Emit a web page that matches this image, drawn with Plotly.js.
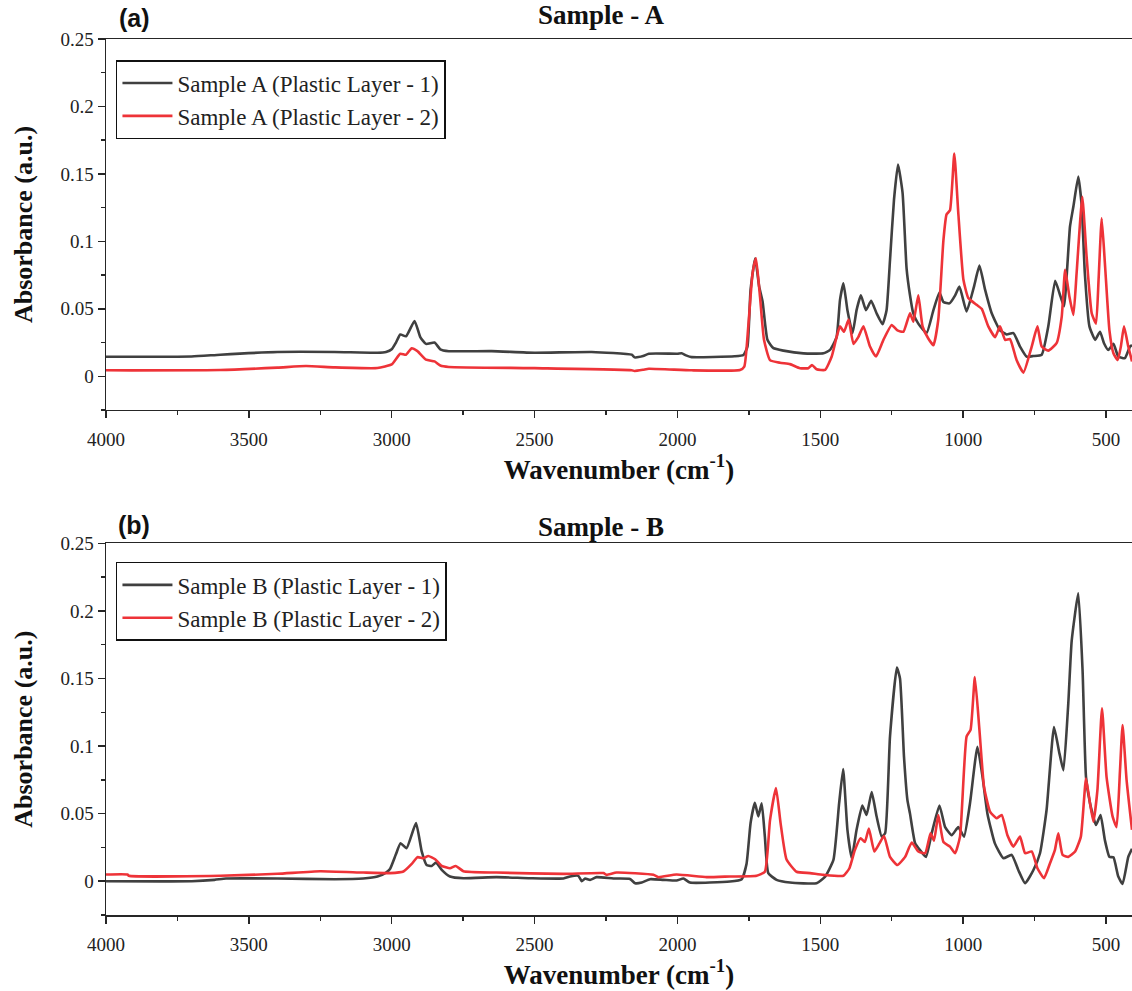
<!DOCTYPE html>
<html>
<head>
<meta charset="utf-8">
<script src="https://cdn.plot.ly/plotly-3.0.1.min.js"></script>
<style>html,body{margin:0;padding:0;background:#fff;}#chart{width:1132px;height:991px;}</style>
</head>
<body>
<div id="chart"></div>
<script>
// ---------- Data ----------
const A1_wn = [4000,3700,3600,3400,3200,3050,3020,3000,2985,2970,
  2950,2920,2900,2880,2850,2830,2800,2650,2500,2300,
  2160,2150,2120,2100,2000,1985,1970,1950,1800,1769,
  1755,1744,1728,1714,1702,1685,1664,1629,1559,1489,
  1466,1443,1431,1419,1405,1387,1373,1358,1340,1322,
  1303,1282,1268,1256,1242,1228,1212,1198,1186,1175,
  1157,1128,1104,1083,1069,1048,1028,1013,988,962,
  943,923,900,871,848,824,801,778,754,725,
  702,678,659,647,626,614,597,585,574,558,
  538,521,507,492,474,457,434,416,409];
const A1_abs = [0.0145,0.0147,0.016,0.018,0.018,0.0174,0.018,0.020,0.025,0.031,
  0.0296,0.041,0.029,0.024,0.025,0.020,0.0186,0.0186,0.0174,0.018,
  0.016,0.014,0.015,0.0167,0.0167,0.017,0.0155,0.0142,0.0148,0.0158,
  0.022,0.064,0.0875,0.0665,0.0554,0.027,0.0208,0.019,0.017,0.017,
  0.0195,0.029,0.0566,0.069,0.049,0.032,0.049,0.060,0.049,0.056,
  0.0467,0.0386,0.049,0.086,0.131,0.157,0.136,0.08,0.06,0.047,
  0.039,0.032,0.049,0.062,0.055,0.054,0.060,0.0665,0.048,0.0665,
  0.082,0.064,0.0467,0.034,0.031,0.032,0.022,0.0146,0.015,0.016,
  0.037,0.0707,0.059,0.052,0.111,0.126,0.148,0.126,0.076,0.037,
  0.027,0.033,0.0245,0.0195,0.024,0.0146,0.0134,0.022,0.023];

const A2_wn = [4000,3600,3400,3300,3200,3050,3000,2970,2950,2930,
  2910,2880,2850,2830,2800,2500,2160,2150,2120,2100,
  1950,1781,1766,1752,1737,1725,1711,1697,1676,1641,
  1606,1571,1542,1529,1513,1483,1460,1443,1431,1417,
  1401,1384,1367,1349,1326,1305,1279,1250,1230,1209,
  1186,1174,1157,1142,1122,1104,1087,1069,1058,1046,
  1031,1017,999,982,953,935,912,888,871,853,
  836,813,789,760,740,725,702,673,655,643,
  628,614,603,583,568,550,535,526,515,503,
  488,474,459,448,437,422,409];
const A2_abs = [0.0044,0.0046,0.0064,0.0076,0.0066,0.0061,0.0088,0.0167,0.016,0.0208,
  0.0186,0.0123,0.011,0.008,0.0069,0.006,0.0045,0.0039,0.0048,0.0056,
  0.0044,0.0047,0.0072,0.037,0.0764,0.0875,0.059,0.027,0.012,0.010,
  0.009,0.006,0.006,0.0084,0.0052,0.0047,0.0146,0.029,0.037,0.033,
  0.042,0.024,0.029,0.037,0.022,0.0146,0.027,0.038,0.034,0.033,
  0.0467,0.0405,0.060,0.037,0.028,0.023,0.042,0.101,0.12,0.123,
  0.165,0.121,0.0715,0.058,0.053,0.050,0.037,0.029,0.037,0.027,
  0.0275,0.012,0.0027,0.022,0.037,0.022,0.019,0.0245,0.044,0.079,
  0.059,0.0455,0.076,0.133,0.089,0.0467,0.039,0.0715,0.117,0.081,
  0.034,0.017,0.012,0.022,0.037,0.022,0.011];

const B1_wn = [4000,3700,3620,3580,3400,3200,3100,3050,3020,3006,
  2986,2969,2948,2915,2895,2878,2860,2845,2825,2796,
  2749,2633,2516,2399,2376,2347,2335,2323,2306,2283,
  2224,2166,2148,2125,2096,2049,2003,1979,1956,1816,
  1775,1758,1744,1729,1717,1705,1694,1682,1653,1606,
  1513,1483,1454,1434,1420,1405,1390,1373,1353,1338,
  1320,1303,1285,1273,1256,1232,1221,1207,1195,1186,
  1168,1151,1130,1110,1083,1063,1040,1017,997,976,
  950,932,915,889,859,830,807,783,754,731,
  708,682,663,649,632,620,597,582,570,556,
  535,519,504,488,474,457,442,422,409];
const B1_abs = [0,0,0.001,0.002,0.002,0.0015,0.002,0.0034,0.0064,0.009,
  0.0195,0.028,0.0244,0.043,0.022,0.012,0.0113,0.0138,0.0084,0.0035,
  0.0022,0.003,0.0022,0.002,0.0035,0.004,0,0.002,0.001,0.003,
  0.002,0.0017,-0.0015,-0.001,0.0015,0.001,0.0005,0.002,-0.001,-0.0002,
  0.0015,0.013,0.043,0.058,0.048,0.0577,0.033,0.006,0.001,-0.001,
  -0.0015,0.0034,0.0158,0.0577,0.083,0.038,0.017,0.038,0.056,0.049,
  0.066,0.048,0.033,0.0355,0.107,0.158,0.15,0.092,0.060,0.050,
  0.028,0.023,0.018,0.0355,0.056,0.040,0.034,0.040,0.033,0.0577,
  0.0995,0.077,0.050,0.028,0.017,0.0195,0.0083,-0.0015,0.0083,0.0207,
  0.0527,0.114,0.0946,0.082,0.1316,0.178,0.213,0.156,0.077,0.0577,
  0.0416,0.049,0.0305,0.018,0.0177,0.0034,-0.002,0.018,0.024];

const B2_wn = [4000,3925,3920,3600,3400,3250,3099,3006,2959,2930,
  2910,2889,2872,2848,2825,2796,2776,2749,2633,2399,
  2259,2248,2213,2084,2067,2003,1898,1816,1723,1694,
  1676,1655,1639,1618,1583,1536,1489,1419,1398,1379,
  1359,1344,1330,1311,1293,1277,1256,1230,1203,1180,
  1157,1133,1114,1102,1087,1069,1046,1028,1011,988,
  974,959,943,927,906,883,865,845,824,801,
  783,760,740,717,696,679,667,652,632,608,
  588,570,556,544,530,514,498,477,463,451,
  442,428,409];
const B2_abs = [0.005,0.005,0.004,0.004,0.0055,0.0074,0.0064,0.006,0.0072,0.0128,
  0.0178,0.017,0.0187,0.0163,0.0113,0.0096,0.0113,0.0074,0.0064,0.0054,
  0.006,0.0047,0.0064,0.0047,0.003,0.005,0.003,0.0035,0.004,0.007,
  0.045,0.069,0.043,0.016,0.007,0.006,0.0047,0.004,0.0096,0.023,
  0.0318,0.029,0.039,0.022,0.028,0.0335,0.018,0.012,0.018,0.0286,
  0.022,0.0207,0.0355,0.030,0.049,0.029,0.0256,0.0207,0.033,0.107,
  0.112,0.151,0.112,0.070,0.0515,0.0466,0.049,0.034,0.0256,0.033,
  0.0207,0.022,0.0096,0.0022,0.0133,0.023,0.0355,0.0195,0.018,0.022,
  0.033,0.076,0.0577,0.044,0.0675,0.128,0.077,0.048,0.040,0.082,
  0.1156,0.075,0.038];

const seriesNames = ["Sample A (Plastic Layer - 1)", "Sample A (Plastic Layer - 2)",
                     "Sample B (Plastic Layer - 1)", "Sample B (Plastic Layer - 2)"];
const panelTitles = ["Sample - A", "Sample - B"];
const panelLetters = ["(a)", "(b)"];
const xTitle = "Wavenumber (cm<sup>-1</sup>)";
const yTitle = "Absorbance (a.u.)";

// ---------- Styling ----------
const BLACK = "#404040", RED = "#ee3338";
const SERIF = "Liberation Serif";
const AXC = "#262626";

function tr(x, y, name, color, xa, ya, leg) {
  return {x: x, y: y, name: name, type: "scatter", mode: "lines",
    line: {color: color, width: 2.6, shape: "spline", smoothing: 0.45},
    xaxis: xa, yaxis: ya, legend: leg, hoverinfo: "x+y"};
}
const data = [
  tr(A1_wn, A1_abs, seriesNames[0], BLACK, "x", "y", "legend"),
  tr(A2_wn, A2_abs, seriesNames[1], RED, "x", "y", "legend"),
  tr(B1_wn, B1_abs, seriesNames[2], BLACK, "x2", "y2", "legend2"),
  tr(B2_wn, B2_abs, seriesNames[3], RED, "x2", "y2", "legend2")
];

function xax(anchor) {
  return {anchor: anchor, domain: [0, 1], range: [4000, 409], autorange: false,
    showline: true, linecolor: AXC, linewidth: 1.5, mirror: true,
    ticks: "outside", ticklen: 7, tickwidth: 1.5, tickcolor: AXC,
    tick0: 0, dtick: 500, ticklabelstandoff: 5,
    minor: {dtick: 250, ticks: "outside", ticklen: 4, tickwidth: 1.5, tickcolor: AXC},
    showgrid: false, zeroline: false, automargin: false,
    tickfont: {family: SERIF, size: 19, color: "#222"},
    title: {text: "<b>" + xTitle + "</b>", font: {family: SERIF, size: 27, color: "#111"}, standoff: 8}};
}
function yax(domain, anchor) {
  return {anchor: anchor, domain: domain, range: [-0.025, 0.25], autorange: false,
    showline: true, linecolor: AXC, linewidth: 1.5, mirror: false,
    ticks: "outside", ticklen: 7, tickwidth: 1.5, tickcolor: AXC,
    tick0: 0, dtick: 0.05,
    minor: {dtick: 0.025, ticks: "outside", ticklen: 4, tickwidth: 1.5, tickcolor: AXC},
    showgrid: false, zeroline: false, automargin: false,
    tickfont: {family: SERIF, size: 19, color: "#222"},
    title: {text: "<b>" + yTitle + "</b>", font: {family: SERIF, size: 26, color: "#111"}, standoff: 20}};
}
function leg(y) {
  return {x: 0.0097, y: y, xanchor: "left", yanchor: "top",
    bordercolor: "#111", borderwidth: 1.5, bgcolor: "rgba(255,255,255,0)",
    font: {family: SERIF, size: 23, color: "#222"}, itemwidth: 50, tracegroupgap: 0};
}
function ann(text, x, y, font) {
  return {text: text, x: x, y: y, xref: "paper", yref: "paper", xanchor: "center", yanchor: "middle",
    showarrow: false, font: font};
}
const titleFont = {family: SERIF, size: 27, color: "#111"};
const letterFont = {family: "Liberation Sans", size: 25, color: "#111"};

const layout = {
  width: 1132, height: 991,
  margin: {l: 106, r: 0, t: 39, b: 76},
  paper_bgcolor: "#fff", plot_bgcolor: "#fff",
  showlegend: true,
  xaxis: xax("y"), yaxis: yax([0.5765, 1], "x"),
  xaxis2: xax("y2"), yaxis2: yax([0, 0.4243], "x2"),
  legend: leg(0.976), legend2: leg(0.403),
  annotations: [
    ann("<b>" + panelTitles[0] + "</b>", 0.4825, 1.0274, titleFont),
    ann("<b>" + panelTitles[1] + "</b>", 0.4825, 0.4429, titleFont),
    ann("<b>" + panelLetters[0] + "</b>", 0.0273, 1.024, letterFont),
    ann("<b>" + panelLetters[1] + "</b>", 0.0273, 0.4452, letterFont)
  ]
};
Plotly.newPlot("chart", data, layout, {displayModeBar: false, staticPlot: true});
</script>
</body>
</html>
